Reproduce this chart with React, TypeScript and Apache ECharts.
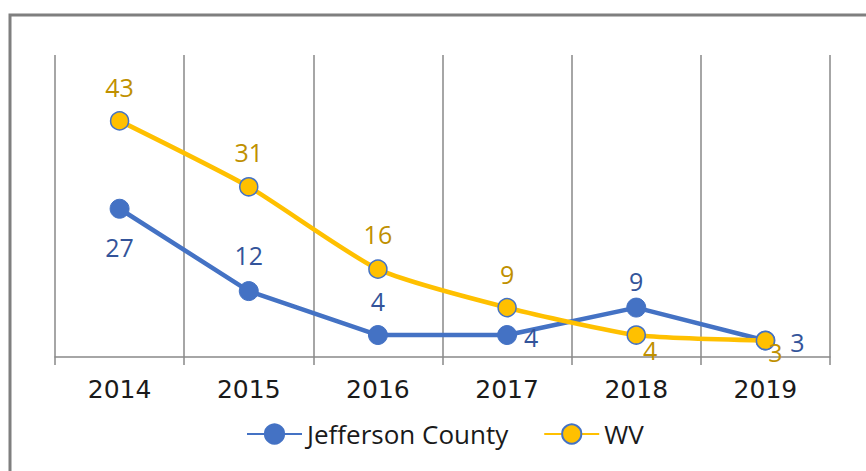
import React, { useEffect, useRef } from "react";
import * as echarts from "echarts";

const years = ["2014", "2015", "2016", "2017", "2018", "2019"];
const jeffersonCounty = [27, 12, 4, 4, 9, 3];
const wv = [43, 31, 16, 9, 4, 3];

// label offsets from marker centre (style only)
const jeffersonLabelOffsets = [[0, 38], [0, -36], [0, -34], [24, 2], [0, -27], [32, 1]];
const wvLabelOffsets = [[0, -34], [0, -35], [0, -35], [0, -34], [14, 15], [10, 11]];

const BLUE = "#4472C4";
const GOLD = "#FFC000";
const BLUE_TXT = "#33549a";
const GOLD_TXT = "#BF9000";
const GRID = "#898989";

export default function App() {
  const ref = useRef<HTMLDivElement>(null);
  useEffect(() => {
    if (!ref.current) return;
    const chart = echarts.init(ref.current, undefined, { renderer: "svg" });
    const labelFont = { fontFamily: "Open Sans", fontSize: 25 };
    chart.setOption({
      animation: false,
      backgroundColor: "#fff",
      graphic: [
        {
          type: "rect",
          shape: { x: 10, y: 15, width: 1000, height: 1000 },
          style: { fill: "none", stroke: "#7f7f7f", lineWidth: 3 },
          silent: true,
        },
      ],
      grid: { left: 55, right: 36, top: 55, bottom: 114, containLabel: false },
      legend: {
        left: 246,
        top: 421,
        padding: 0,
        itemWidth: 55,
        itemHeight: 24,
        itemGap: 35,
        textStyle: { fontFamily: "Open Sans", fontSize: 26, color: "#1a1a1a", lineHeight: 26 },
        data: ["Jefferson County", "WV"],
      },
      xAxis: {
        type: "category",
        data: years,
        boundaryGap: true,
        axisLine: { lineStyle: { color: GRID, width: 1.5 } },
        axisTick: { show: true, length: 8, lineStyle: { color: GRID, width: 1.5 } },
        splitLine: { show: true, lineStyle: { color: GRID, width: 1.5 } },
        axisLabel: {
          fontFamily: "DejaVu Sans",
          fontSize: 25,
          color: "#1a1a1a",
          margin: 20,
        },
      },
      yAxis: {
        type: "value",
        min: 0,
        max: 55,
        show: false,
        splitLine: { show: false },
      },
      series: [
        {
          name: "Jefferson County",
          type: "line",
          data: jeffersonCounty.map((v, i) => ({
            value: v,
            label: { offset: jeffersonLabelOffsets[i] },
          })),
          symbol: "circle",
          symbolSize: 19,
          itemStyle: { color: BLUE, borderColor: BLUE, borderWidth: 1 },
          lineStyle: { color: BLUE, width: 4.5 },
          label: {
            show: true,
            position: "inside",
            align: "center",
            verticalAlign: "middle",
            color: BLUE_TXT,
            ...labelFont,
          },
          z: 2,
        },
        {
          name: "WV",
          type: "line",
          smooth: 0.2,
          data: wv.map((v, i) => ({
            value: v,
            label: { offset: wvLabelOffsets[i] },
          })),
          symbol: "circle",
          symbolSize: 18,
          itemStyle: { color: GOLD, borderColor: BLUE, borderWidth: 1.5 },
          lineStyle: { color: GOLD, width: 4.5 },
          label: {
            show: true,
            position: "inside",
            align: "center",
            verticalAlign: "middle",
            color: GOLD_TXT,
            ...labelFont,
          },
          z: 3,
        },
      ],
    });
    return () => chart.dispose();
  }, []);
  return (
    <div
      ref={ref}
      style={{ position: "fixed", left: 0, top: 0, width: 866, height: 471 }}
    />
  );
}
